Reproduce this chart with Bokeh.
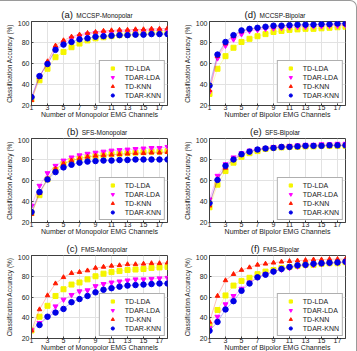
import numpy as np
from bokeh.plotting import figure
from bokeh.layouts import column, row
from bokeh.models import Legend, LegendItem, FixedTicker, Div
from bokeh.embed import file_html
from bokeh.resources import INLINE

channels = list(range(1, 19))
x_ticks = [1, 3, 5, 7, 9, 11, 13, 15, 17]
y_ticks = [20, 40, 60, 80, 100]
series_names = ["TD-LDA", "TDAR-LDA", "TD-KNN", "TDAR-KNN"]

# (a) MCCSP-Monopolar
a_td_lda = [26, 44, 55, 66, 71, 75.5, 79, 82, 84, 85, 86, 87, 87.5, 88, 88.5, 89, 89.5, 90]
a_tdar_lda = [27, 48, 60, 74, 80, 84, 86, 88, 89, 89.5, 90, 90.5, 90.5, 91, 91, 91.5, 91.5, 91.5]
a_td_knn = [25, 47, 62, 77, 82, 85.5, 87.5, 89, 90, 91, 91.5, 92, 92, 92.5, 92.5, 93, 93, 93.5]
a_tdar_knn = [28, 48, 59.5, 73, 78, 80.5, 83, 84, 85.5, 86, 86.5, 87, 87, 87.5, 87.5, 88, 88, 88]

# (d) MCCSP-Bipolar
d_td_lda = [31, 55, 67, 75, 80.5, 83.5, 86, 88, 90, 91, 92, 92.5, 93, 93, 93.5, 94, 94.5, 95]
d_tdar_lda = [33, 65, 77, 83, 88, 91, 92, 93, 93.5, 94, 94.5, 95, 95, 95.5, 95.5, 96, 96, 96.5]
d_td_knn = [34.5, 67, 79, 86, 90.5, 92.5, 93.5, 94.5, 95, 95.5, 96, 96.5, 96.5, 97, 97, 97, 97.5, 97.5]
d_tdar_knn = [39, 68.5, 80.5, 87, 91.5, 93, 94, 95, 96, 96, 96.5, 97, 97, 97, 97.5, 97.5, 98, 98]

# (b) SFS-Monopolar
b_td_lda = [29, 46, 61, 70, 76, 79, 81, 82, 83, 84, 85, 85.5, 86, 86.5, 87, 87.5, 87.5, 88]
b_tdar_lda = [36, 55, 67, 74, 79, 82, 84, 85.5, 86.5, 87.5, 88.5, 89, 89.5, 90, 90.5, 91, 91, 92]
b_td_knn = [28, 48, 62, 71, 76, 79, 81, 82.5, 83.5, 84, 84.5, 85, 85.5, 86, 86, 86.5, 86.5, 87]
b_tdar_knn = [30, 49, 61, 68, 72.5, 75, 77, 78, 78.5, 79, 79, 79.5, 79.5, 80, 80, 80, 80, 80]

# (e) SFS-Bipolar
e_td_lda = [34.5, 56, 69, 77, 82.5, 86, 88, 90, 91, 91.5, 92, 92, 92.5, 92.5, 93, 93, 93, 93]
e_tdar_lda = [42, 64.5, 75.5, 82, 86, 88.5, 90, 91, 92, 92.5, 93, 93.5, 94, 94, 94.5, 94.5, 95, 95]
e_td_knn = [36, 61, 72, 80, 84.5, 87.5, 89, 90.5, 91, 91.5, 92, 92.5, 92.5, 93, 93, 93, 93.5, 93.5]
e_tdar_knn = [38.5, 60.5, 74, 80, 85, 87.5, 89.5, 90.5, 91, 92, 92, 92.5, 93, 93, 93, 93.5, 93.5, 93.5]

# (c) FMS-Monopolar
c_td_lda = [27.7, 41, 51.5, 61, 67.5, 72, 74, 77, 80, 82.5, 84, 85, 86, 86.5, 87, 88, 88.5, 89]
c_tdar_lda = [28, 35, 41, 51, 57.5, 62, 65.5, 66.5, 70.5, 72.5, 74, 75, 76, 77, 77, 77.5, 78, 78.5]
c_td_knn = [27.7, 48, 61.5, 73, 79, 83, 84, 85.5, 88, 89, 90, 90.5, 91.5, 91.5, 92, 92.5, 92.5, 93]
c_tdar_knn = [None, 33, 41, 45, 48.5, 55, 58, 61, 64.5, 67, 68.5, 70, 71, 71.5, 72, 72.5, 73, 73]

# (f) FMS-Bipolar
f_td_lda = [33, 47.5, 61.5, 71, 75.5, 78.5, 82, 84.5, 86, 88, 89, 90, 91, 91, 92, 92.5, 92.5, 93.5]
f_tdar_lda = [30, 41, 53, 61, 68, 74, 79, 82, 84.5, 86.5, 88, 89.5, 90.5, 91, 92, 92.5, 93, 93.5]
f_td_knn = [36, 61, 76, 82, 86, 88.5, 91, 92, 93, 94, 94.5, 95, 95.5, 96, 96, 96.5, 96.5, 96.5]
f_tdar_knn = [27.5, 36, 48, 56, 66, 73, 79, 81.5, 84.5, 87, 89, 90.5, 91, 92, 92.5, 93, 93.3, 94]

FONT = "Liberation Sans"
COLORS = ["#f5f500", "#ff00ff", "#ff1a00", "#0000e6"]
MARKERS = ["square", "inverted_triangle", "triangle", "circle"]
SIZES = [5, 5, 4.5, 5.5]

W = 178
TITLE_H = 19
OVERLAP = 2


def title_div(letter, name, top):
    html = ('<div style="position:absolute;left:29px;width:136px;top:%dpx;'
            'text-align:center;white-space:nowrap;font-family:\'Liberation Sans\';'
            'color:#111;line-height:1;">'
            '<span style="font-size:9.5px">%s</span> '
            '<span style="font-size:6.5px">%s</span></div>') % (top, letter, name)
    return Div(text=html, width=W, height=TITLE_H, margin=0,
               styles={"overflow": "visible", "position": "relative"})


def make_fig(data, xlabel, height):
    p = figure(width=W, height=height, x_range=(1, 18), y_range=(20, 100),
               output_backend="svg", toolbar_location=None,
               min_border_left=31, min_border_right=11,
               min_border_top=1, min_border_bottom=5,
               margin=(0, 0, -OVERLAP, 0))
    p.background_fill_color = "white"
    p.border_fill_alpha = 0
    p.outline_line_color = "#404040"
    p.outline_line_width = 1
    for ax in (p.xaxis, p.yaxis):
        ax.axis_line_color = "#404040"
        ax.major_tick_in = 2
        ax.major_tick_out = 0
        ax.minor_tick_in = 0
        ax.minor_tick_out = 0
        ax.minor_tick_line_color = None
        ax.major_tick_line_color = "#404040"
        ax.major_label_text_font = FONT
        ax.major_label_text_font_size = "7px"
        ax.major_label_text_color = "#222222"
        ax.axis_label_text_font = FONT
        ax.axis_label_text_font_style = "normal"
        ax.axis_label_text_color = "#222222"
    p.xaxis.ticker = FixedTicker(ticks=x_ticks)
    p.yaxis.ticker = FixedTicker(ticks=y_ticks)
    p.xaxis.major_label_standoff = -1
    p.yaxis.major_label_standoff = 2
    p.xaxis.axis_label = xlabel
    p.xaxis.axis_label_text_font_size = "7px"
    p.xaxis.axis_label_standoff = -2
    p.yaxis.axis_label = "Classification Accuracy (%)"
    p.yaxis.axis_label_text_font_size = "6.5px"
    p.yaxis.axis_label_standoff = 2
    p.xgrid.grid_line_color = "#e2e2e2"
    p.ygrid.grid_line_color = "#e2e2e2"

    items = []
    for vals, nm, col, mk, sz in zip(data, series_names, COLORS, MARKERS, SIZES):
        ys = [np.nan if v is None else v for v in vals]
        p.line(channels, ys, line_color=col, line_alpha=0.35, line_width=0.8)
        r = p.scatter(channels, ys, marker=mk, size=sz, fill_color=col,
                      line_color=col)
        items.append(LegendItem(label=nm, renderers=[r]))
    leg = Legend(items=items, location="bottom_right")
    leg.label_text_font = FONT
    leg.label_text_font_size = "7px"
    leg.label_text_color = "#222222"
    leg.glyph_width = 19
    leg.glyph_height = 8
    leg.label_height = 8
    leg.label_standoff = 3
    leg.spacing = 1
    leg.padding = 3
    leg.margin = 2
    leg.border_line_color = "#606060"
    leg.border_line_width = 1
    leg.background_fill_alpha = 1
    p.add_layout(leg, "center")
    return p


def panel(letter, name, xlabel, data, fig_h):
    return column(title_div(letter, name, 7), make_fig(data, xlabel, fig_h), spacing=0)


mono = "Number of Monopolor EMG Channels"
bi = "Number of Bipolor EMG Channels"
pa = panel("(a)", "MCCSP-Monopolar", mono, [a_td_lda, a_tdar_lda, a_td_knn, a_tdar_knn], 98 + OVERLAP)
pd_ = panel("(d)", "MCCSP-Bipolar", bi, [d_td_lda, d_tdar_lda, d_td_knn, d_tdar_knn], 98 + OVERLAP)
pb = panel("(b)", "SFS-Monopolar", mono, [b_td_lda, b_tdar_lda, b_td_knn, b_tdar_knn], 98 + OVERLAP)
pe = panel("(e)", "SFS-Bipolar", bi, [e_td_lda, e_tdar_lda, e_td_knn, e_tdar_knn], 98 + OVERLAP)
pc = panel("(c)", "FMS-Monopolar", mono, [c_td_lda, c_tdar_lda, c_td_knn, c_tdar_knn], 97 + OVERLAP)
pf = panel("(f)", "FMS-Bipolar", bi, [f_td_lda, f_tdar_lda, f_td_knn, f_tdar_knn], 97 + OVERLAP)

layout = column(row(pa, pd_, spacing=0), row(pb, pe, spacing=0), row(pc, pf, spacing=0),
                spacing=0)
layout.styles = {"border-top": "1px solid #9a9a9a", "border-right": "1px solid #9a9a9a",
                 "border-top-right-radius": "7px", "background-color": "white"}

open("out.html", "w").write(file_html(layout, INLINE))
